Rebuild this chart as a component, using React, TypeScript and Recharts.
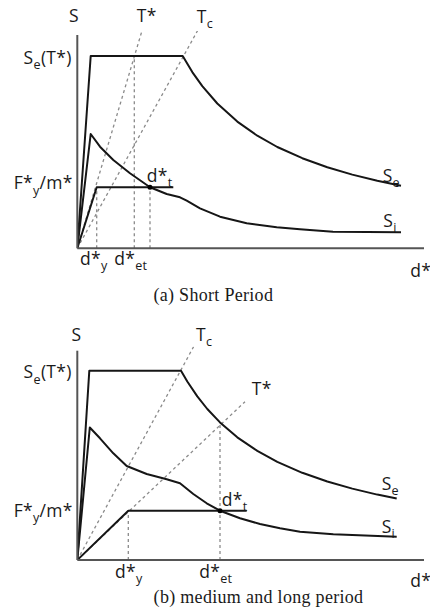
import React from 'react';
import { ComposedChart, Line, XAxis, YAxis, ReferenceDot, ReferenceLine } from 'recharts';

type Pt = { x: number; y: number };
type Part = { t: string; sub?: boolean };

// ---------- Panel (a) Short Period (drawing units: origin at axes corner) ----------
const seA: Pt[] = [
  { x: 0, y: 0 }, { x: 13.4, y: 192.3 }, { x: 105.4, y: 192.3 }, { x: 115, y: 176.2 },
  { x: 125, y: 162.1 }, { x: 140, y: 144.8 }, { x: 160, y: 126.7 }, { x: 180, y: 112.6 },
  { x: 200, y: 101.3 }, { x: 225, y: 90.1 }, { x: 250, y: 81.1 }, { x: 275, y: 73.7 },
  { x: 300, y: 67.6 }, { x: 323.7, y: 62.6 },
];
const siA: Pt[] = [
  { x: 0, y: 0 }, { x: 13.4, y: 114.3 }, { x: 22.7, y: 101.6 }, { x: 36, y: 88.3 },
  { x: 52.7, y: 75 }, { x: 72.7, y: 61 }, { x: 89.4, y: 54.3 }, { x: 102.7, y: 51 },
  { x: 109.4, y: 47.6 }, { x: 122.7, y: 40 }, { x: 142.7, y: 31.6 }, { x: 169.4, y: 25 },
  { x: 199.4, y: 21 }, { x: 222.7, y: 19 }, { x: 255.7, y: 16.6 }, { x: 323.7, y: 16 },
];
const capA: Pt[] = [{ x: 0, y: 0 }, { x: 19.4, y: 61 }, { x: 96, y: 61 }];
const tStarA: Pt[] = [{ x: 0, y: 0 }, { x: 64.4, y: 216.6 }];
const tcA: Pt[] = [{ x: 0, y: 0 }, { x: 121, y: 219 }];
const vertA: Pt[][] = [
  [{ x: 19.4, y: 0 }, { x: 19.4, y: 61 }],
  [{ x: 57, y: 0 }, { x: 57, y: 192.3 }],
  [{ x: 72.7, y: 0 }, { x: 72.7, y: 61 }],
];
const dtA: Pt = { x: 72.7, y: 61 };
const yAxisTopA = 217.3;
const xAxisEnd = 350.7;

// ---------- Panel (b) medium and long period ----------
const seB: Pt[] = [
  { x: 0, y: 0 }, { x: 12, y: 189.3 }, { x: 103.7, y: 189.3 }, { x: 110, y: 178.5 },
  { x: 120, y: 163.6 }, { x: 130, y: 151 }, { x: 142.7, y: 137.6 }, { x: 160, y: 122.7 },
  { x: 180, y: 109.1 }, { x: 200, y: 98.2 }, { x: 225, y: 87.2 }, { x: 250, y: 78.5 },
  { x: 275, y: 71.4 }, { x: 300, y: 65.4 }, { x: 319.4, y: 61.5 },
];
const siB: Pt[] = [
  { x: 0, y: 0 }, { x: 12.5, y: 132.5 }, { x: 22.7, y: 121.7 }, { x: 36, y: 106.7 },
  { x: 49.4, y: 94 }, { x: 69.4, y: 86 }, { x: 89.4, y: 80.7 }, { x: 102.7, y: 76.7 },
  { x: 116, y: 66 }, { x: 129.4, y: 56.7 }, { x: 142.7, y: 49.3 }, { x: 162.7, y: 41.7 },
  { x: 182.7, y: 36 }, { x: 202.7, y: 31.7 }, { x: 222.7, y: 28.3 }, { x: 256, y: 25.7 },
  { x: 319.4, y: 23.3 },
];
const capB: Pt[] = [{ x: 0, y: 0 }, { x: 51, y: 49.3 }, { x: 169.4, y: 49.3 }];
const tStarB: Pt[] = [{ x: 0, y: 0 }, { x: 167.7, y: 158.3 }];
const tcB: Pt[] = [{ x: 0, y: 0 }, { x: 122.7, y: 225 }];
const vertB: Pt[][] = [
  [{ x: 51, y: 0 }, { x: 51, y: 49.3 }],
  [{ x: 142.7, y: 0 }, { x: 142.7, y: 137.6 }],
];
const dtB: Pt = { x: 142.7, y: 49.3 };
const yAxisTopB = 213.3;

// ---------- Labels ----------
const P_S: Part[] = [{ t: 'S' }];
const P_TSTAR: Part[] = [{ t: 'T*' }];
const P_TC: Part[] = [{ t: 'T' }, { t: 'c', sub: true }];
const P_SET: Part[] = [{ t: 'S' }, { t: 'e', sub: true }, { t: '(T*)' }];
const P_FY: Part[] = [{ t: 'F*' }, { t: 'y', sub: true }, { t: '/m*' }];
const P_DT: Part[] = [{ t: 'd*' }, { t: 't', sub: true }];
const P_SE: Part[] = [{ t: 'S' }, { t: 'e', sub: true }];
const P_SI: Part[] = [{ t: 'S' }, { t: 'i', sub: true }];
const P_DY: Part[] = [{ t: 'd*' }, { t: 'y', sub: true }];
const P_DET: Part[] = [{ t: 'd*' }, { t: 'et', sub: true }];
const P_D: Part[] = [{ t: 'd*' }];

type Lab = { x: number; y: number; parts: Part[]; anchor: 'start' | 'middle' | 'end'; serif?: boolean };

const labelsA: Lab[] = [
  { x: -3.3, y: 226.6, parts: P_S, anchor: 'middle' },
  { x: 59.4, y: 226.6, parts: P_TSTAR, anchor: 'start' },
  { x: 119.4, y: 225.6, parts: P_TC, anchor: 'start' },
  { x: -5.6, y: 184.3, parts: P_SET, anchor: 'end' },
  { x: -4.6, y: 59, parts: P_FY, anchor: 'end' },
  { x: 69.4, y: 66.6, parts: P_DT, anchor: 'start' },
  { x: 305.4, y: 66.6, parts: P_SE, anchor: 'start' },
  { x: 306, y: 21.6, parts: P_SI, anchor: 'start' },
  { x: 2.7, y: -16.7, parts: P_DY, anchor: 'start' },
  { x: 37, y: -16.7, parts: P_DET, anchor: 'start' },
  { x: 333, y: -28.7, parts: P_D, anchor: 'start' },
  { x: 136, y: -52.2, parts: [{ t: '(a) Short Period' }], anchor: 'middle', serif: true },
];
const labelsB: Lab[] = [
  { x: -0.8, y: 219.3, parts: P_S, anchor: 'middle' },
  { x: 118.7, y: 219.3, parts: P_TC, anchor: 'start' },
  { x: 174.4, y: 165, parts: P_TSTAR, anchor: 'start' },
  { x: -5.6, y: 181.7, parts: P_SET, anchor: 'end' },
  { x: -4.6, y: 43.3, parts: P_FY, anchor: 'end' },
  { x: 144.4, y: 54, parts: P_DT, anchor: 'start' },
  { x: 304.4, y: 70, parts: P_SE, anchor: 'start' },
  { x: 304.4, y: 27, parts: P_SI, anchor: 'start' },
  { x: 37.7, y: -18, parts: P_DY, anchor: 'start' },
  { x: 122, y: -18, parts: P_DET, anchor: 'start' },
  { x: 333, y: -27, parts: P_D, anchor: 'start' },
  { x: 181.2, y: -43.3, parts: [{ t: '(b) medium and long period' }], anchor: 'middle', serif: true },
];

const MathText = ({ cx, cy, lab }: { cx: number; cy: number; lab: Lab }) => {
  const size = lab.serif ? 18 : 17.5;
  const off = size * 0.3;
  return (
    <text
      x={cx}
      y={cy}
      textAnchor={lab.anchor}
      fontFamily={lab.serif ? '"Liberation Serif", "Times New Roman", serif' : '"Open Sans", sans-serif'}
      fontSize={size}
      fill="#1a1a1a"
      letterSpacing={0.3}
    >
      {lab.parts.map((p, i) => {
        const prevSub = i > 0 && lab.parts[i - 1].sub;
        const dy = p.sub ? off : prevSub ? -off : 0;
        return (
          <tspan key={i} dy={dy} fontSize={p.sub ? size * 0.72 : size}>
            {p.t}
          </tspan>
        );
      })}
    </text>
  );
};

const upPath = (cx: number, cy: number) => `M${cx},${cy} L${cx - 3.5},${cy + 11} L${cx},${cy + 8.5} L${cx + 3.5},${cy + 11} Z`;
const rightPath = (cx: number, cy: number) => `M${cx},${cy} L${cx - 11},${cy - 3.5} L${cx - 8.5},${cy} L${cx - 11},${cy + 3.5} Z`;

const xArrowLabel = (props: any) => {
  const vb = props.viewBox;
  if (!vb) return null;
  return <path d={rightPath(vb.x + vb.width, vb.y)} fill="#111" stroke="none" />;
};
const yArrowLabel = (props: any) => {
  const vb = props.viewBox;
  if (!vb) return null;
  return <path d={upPath(vb.x + vb.width, vb.y)} fill="#111" stroke="none" />;
};

const CURVE = '#161616';
const DASH = '#8a8a8a';
const AXIS = '#555';

type PanelDef = {
  height: number;
  margin: { top: number; right: number; bottom: number; left: number };
  se: Pt[];
  si: Pt[];
  cap: Pt[];
  tStar: Pt[];
  tc: Pt[];
  verts: Pt[][];
  dt: Pt;
  yTop: number;
  labels: Lab[];
};

const dashProps = { type: 'linear' as const, dot: false, activeDot: false, stroke: DASH, strokeWidth: 1.3, strokeDasharray: '3 3', isAnimationActive: false };
const curveProps = { type: 'linear' as const, dot: false, activeDot: false, stroke: CURVE, strokeWidth: 2, strokeLinejoin: 'round' as const, isAnimationActive: false };

const renderPanel = (pn: PanelDef) => (
  <ComposedChart width={430} height={pn.height} margin={pn.margin}>
    <XAxis
      type="number"
      dataKey="x"
      domain={[0, xAxisEnd]}
      allowDataOverflow
      height={0}
      tick={false}
      tickLine={false}
      axisLine={{ stroke: AXIS, strokeWidth: 1.6 }}
      label={xArrowLabel}
    />
    <YAxis
      type="number"
      dataKey="y"
      domain={[0, pn.yTop]}
      allowDataOverflow
      width={0}
      tick={false}
      tickLine={false}
      axisLine={{ stroke: AXIS, strokeWidth: 1.6 }}
      label={yArrowLabel}
    />
    <Line data={pn.tStar} dataKey="y" {...dashProps} />
    <Line data={pn.tc} dataKey="y" {...dashProps} />
    {pn.verts.map((v, i) => (
      <Line key={`v${i}`} data={v} dataKey="y" {...dashProps} />
    ))}
    <Line data={pn.se} dataKey="y" {...curveProps} />
    <Line data={pn.si} dataKey="y" {...curveProps} />
    <Line data={pn.cap} dataKey="y" {...curveProps} />
    <ReferenceLine segment={[{ x: 0, y: 0 }, { x: 0, y: pn.yTop - 4 }]} stroke={AXIS} strokeWidth={2} ifOverflow="visible" />
    <ReferenceLine segment={[{ x: 0, y: 0 }, { x: xAxisEnd - 4, y: 0 }]} stroke={AXIS} strokeWidth={2} ifOverflow="visible" />
    <ReferenceDot x={pn.dt.x} y={pn.dt.y} r={2.5} fill="#000" stroke="none" ifOverflow="visible" />
    {pn.labels.map((lab, i) => (
      <ReferenceDot key={`l${i}`} x={lab.x} y={lab.y} r={0} ifOverflow="visible" shape={(p: any) => <MathText cx={p.cx} cy={p.cy} lab={lab} />} />
    ))}
  </ComposedChart>
);

const panelA: PanelDef = {
  height: 310,
  margin: { top: 31, right: 2, bottom: 61.7, left: 77.3 },
  se: seA, si: siA, cap: capA, tStar: tStarA, tc: tcA, verts: vertA, dt: dtA, yTop: yAxisTopA, labels: labelsA,
};
const panelB: PanelDef = {
  height: 309,
  margin: { top: 46.7, right: 2, bottom: 49, left: 77.3 },
  se: seB, si: siB, cap: capB, tStar: tStarB, tc: tcB, verts: vertB, dt: dtB, yTop: yAxisTopB, labels: labelsB,
};

export default function App() {
  return (
    <div style={{ position: 'absolute', left: 0, top: 0, width: 430, height: 609, background: '#fff' }}>
      <div style={{ position: 'absolute', left: 0, top: 0 }}>{renderPanel(panelA)}</div>
      <div style={{ position: 'absolute', left: 0, top: 300 }}>{renderPanel(panelB)}</div>
    </div>
  );
}
